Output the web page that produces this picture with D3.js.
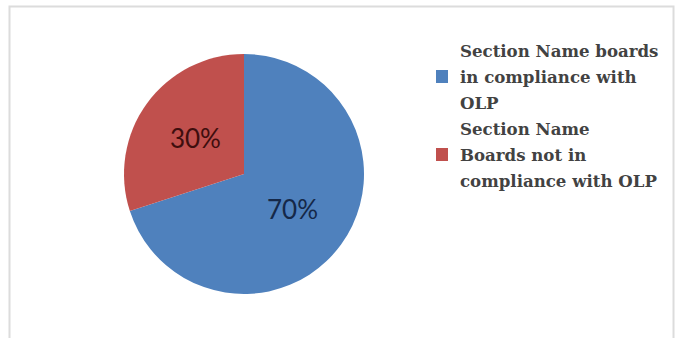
<!DOCTYPE html>
<html>
<head>
<meta charset="utf-8">
<script src="https://cdn.jsdelivr.net/npm/d3@7"></script>
<style>
  body { margin: 0; background: #fff; }
</style>
</head>
<body>
<div id="chart"></div>
<script>
const categories = ['Section Name boards in compliance with OLP', 'Section Name Boards not in compliance with OLP'];
const values = [70, 30];
const labels = ['70%', '30%'];
const legendLines = [
    ['Section Name boards', 'in compliance with', 'OLP'],
    ['Section Name', 'Boards not in', 'compliance with OLP']
];
const colors = ['#4f81bd', '#c0504d'];
const labelColors = ['#152848', '#3e0e0e'];

const width = 678;
const height = 338;
const radius = 120;
const cx = 244, cy = 174;

const svg = d3.select('#chart')
    .append('svg')
    .attr('width', width)
    .attr('height', height);

// chart border
svg.append('rect')
    .attr('x', 9.5)
    .attr('y', 6.5)
    .attr('width', 664)
    .attr('height', 340)
    .attr('fill', 'none')
    .attr('stroke', '#dcdcdc')
    .attr('stroke-width', 2);

const pie = d3.pie().sort(null).value(d => d);
const arc = d3.arc().innerRadius(0).outerRadius(radius);

const g = svg.append('g').attr('transform', `translate(${cx}, ${cy})`);

const arcs = pie(values);

g.selectAll('path')
    .data(arcs)
    .join('path')
        .attr('d', arc)
        .attr('fill', (d, i) => colors[i]);

g.selectAll('text')
    .data(arcs)
    .join('text')
        .attr('transform', d => `translate(${arc.centroid(d)})`)
        .attr('text-anchor', 'middle')
        .attr('dy', '0.36em')
        .attr('font-family', 'Lato, sans-serif')
        .attr('font-size', '26px')
        .attr('fill', (d, i) => labelColors[i])
        .text((d, i) => labels[i]);

// legend
const legend = svg.append('g')
    .attr('font-family', 'DejaVu Serif, serif')
    .attr('font-size', '16.6px')
    .attr('font-weight', 'bold')
    .attr('fill', '#424242');

const lineH = 26;
const legendTop = 51;

categories.forEach((c, i) => {
    const y0 = legendTop + i * 3 * lineH;
    legend.append('rect')
        .attr('x', 436)
        .attr('y', y0 + lineH - 7)
        .attr('width', 12)
        .attr('height', 13)
        .attr('fill', colors[i]);
    legend.append('text')
        .selectAll('tspan')
        .data(legendLines[i])
        .join('tspan')
            .attr('x', 460)
            .attr('y', (d, j) => y0 + j * lineH)
            .attr('dy', '0.36em')
            .text(d => d);
});
</script>
</body>
</html>
